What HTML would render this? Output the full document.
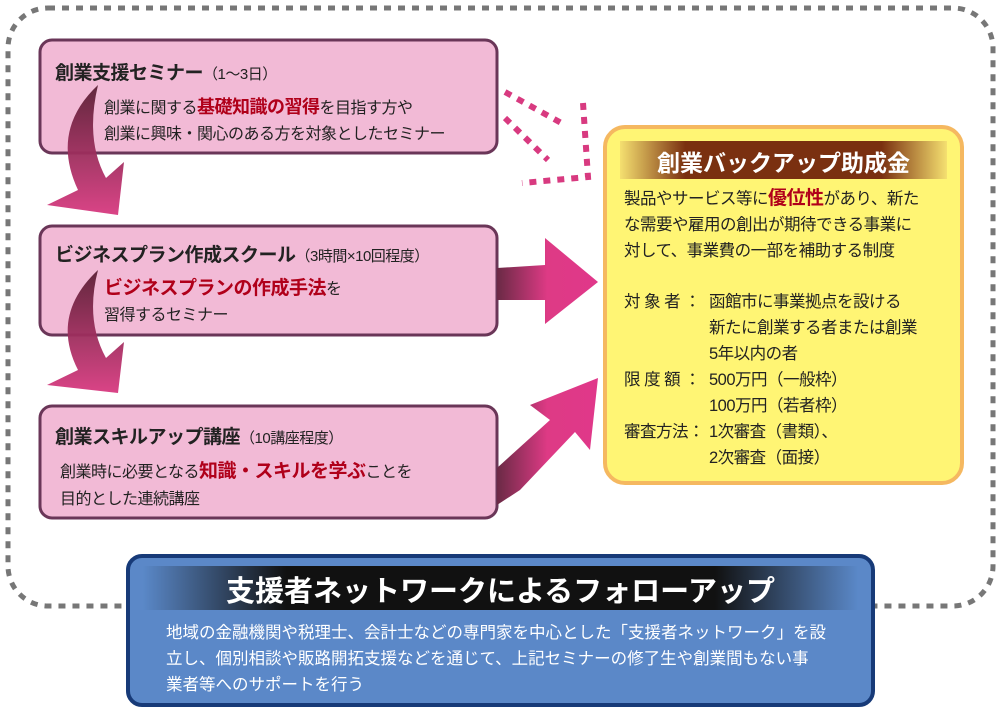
<!DOCTYPE html>
<html><head><meta charset="utf-8"><style>
body{margin:0;width:1000px;height:715px;background:#fff;overflow:hidden;font-family:"Liberation Sans","Noto Sans CJK JP",sans-serif;}
svg{position:absolute;left:0;top:0}
.t{position:absolute;color:#222;white-space:nowrap;letter-spacing:-0.5px}
.r{color:#b0001a;font-weight:bold}
.h{font-size:19px;font-weight:bold;letter-spacing:-0.5px}
.h span{font-weight:normal;font-size:15px}
</style></head><body>
<svg width="1000" height="715">
<defs>
<linearGradient id="ca" x1="0" y1="0" x2="0" y2="1"><stop offset="0" stop-color="#5a2035"/><stop offset="1" stop-color="#d83a80"/></linearGradient>
<linearGradient id="ra" x1="0" y1="0" x2="1" y2="0"><stop offset="0" stop-color="#6a2a45"/><stop offset="0.5" stop-color="#de3a85"/><stop offset="1" stop-color="#e0388a"/></linearGradient>
<linearGradient id="gb" x1="0" y1="0" x2="1" y2="0"><stop offset="0" stop-color="#f5e070"/><stop offset="0.2" stop-color="#7a3010"/><stop offset="0.8" stop-color="#7a3010"/><stop offset="1" stop-color="#f5e070"/></linearGradient>
<linearGradient id="bb" x1="0" y1="0" x2="1" y2="0"><stop offset="0" stop-color="#5a88c8"/><stop offset="0.2" stop-color="#111"/><stop offset="0.8" stop-color="#111"/><stop offset="1" stop-color="#5a88c8"/></linearGradient>
</defs>
<rect x="8" y="8" width="985" height="598" rx="40" fill="none" stroke="#777" stroke-width="5" stroke-dasharray="7 7"/>
<rect x="40" y="40" width="457" height="113" rx="12" fill="#f2bad6" stroke="#6a3658" stroke-width="3"/>
<rect x="40" y="226" width="457" height="109" rx="12" fill="#f2bad6" stroke="#6a3658" stroke-width="3"/>
<rect x="40" y="406" width="457" height="112" rx="12" fill="#f2bad6" stroke="#6a3658" stroke-width="3"/>
<path d="M98 85 Q50 130 78 190 L47 205 L118 215 L124 162 L106 178 Q85 140 98 85Z" fill="url(#ca)" opacity="0.95"/>
<path d="M98 270 Q50 315 78 370 L47 385 L118 393 L124 342 L106 358 Q85 320 98 270Z" fill="url(#ca)" opacity="0.95"/>
<path d="M497 268 L545 265 L545 238 L598 282 L545 324 L545 300 L497 300Z" fill="url(#ra)"/>
<path d="M497 468 L550 420 L530 405 L598 378 L590 450 L575 432 L520 490 L497 505Z" fill="url(#ra)"/>
<g fill="none" stroke="#d83a80" stroke-width="6" stroke-dasharray="7 7">
<path d="M505 92 L565 125"/>
<path d="M505 118 L548 160"/>
<path d="M583 103 L588 177 L522 183"/>
</g>
<rect x="605" y="127" width="357" height="356" rx="20" fill="#fff574" stroke="#f5b860" stroke-width="4"/>
<rect x="620" y="141" width="327" height="38" fill="url(#gb)"/>
<rect x="128" y="556" width="745" height="149" rx="14" fill="#5b88c8" stroke="#173a78" stroke-width="4"/>
<rect x="143" y="566" width="715" height="44" fill="url(#bb)"/>
</svg>
<div class="t h" style="left:55px;top:58px">創業支援セミナー<span>（1～3日）</span></div>
<div class="t" style="left:104px;top:94px;font-size:16px;line-height:26px">創業に関する<span class="r" style="font-size:18px">基礎知識の習得</span>を目指す方や<br>創業に興味・関心のある方を対象としたセミナー</div>
<div class="t h" style="left:55px;top:240px">ビジネスプラン作成スクール<span>（3時間×10回程度）</span></div>
<div class="t" style="left:104px;top:276px;font-size:16px;line-height:26px"><span class="r" style="font-size:19px">ビジネスプランの作成手法</span>を<br>習得するセミナー</div>
<div class="t h" style="left:55px;top:422px">創業スキルアップ講座<span>（10講座程度）</span></div>
<div class="t" style="left:60px;top:458px;font-size:16px;line-height:27px">創業時に必要となる<span class="r" style="font-size:19px">知識・スキルを学ぶ</span>ことを<br>目的とした連続講座</div>
<div class="t" style="left:620px;width:327px;text-align:center;top:144px;font-size:23px;font-weight:bold;color:#fff;letter-spacing:0">創業バックアップ助成金</div>
<div class="t" style="left:624px;top:186px;font-size:16.5px;line-height:26px">製品やサービス等に<span class="r" style="font-size:19px">優位性</span>があり、新た<br>な需要や雇用の創出が期待できる事業に<br>対して、事業費の一部を補助する制度</div>
<div class="t" style="left:624px;top:289px;font-size:16.5px;line-height:26px">対 象 者 ：<br><br><br>限 度 額 ：<br><br>審査方法：</div>
<div class="t" style="left:709px;top:289px;font-size:16.5px;line-height:26px">函館市に事業拠点を設ける<br>新たに創業する者または創業<br>5年以内の者<br>500万円（一般枠）<br>100万円（若者枠）<br>1次審査（書類）、<br>2次審査（面接）</div>
<div class="t" style="left:143px;width:715px;text-align:center;top:568px;font-size:29px;font-weight:bold;color:#fff;letter-spacing:0">支援者ネットワークによるフォローアップ</div>
<div class="t" style="left:166px;top:620px;font-size:16.5px;line-height:26px;color:#fff;letter-spacing:0">地域の金融機関や税理士、会計士などの専門家を中心とした「支援者ネットワーク」を設<br>立し、個別相談や販路開拓支援などを通じて、上記セミナーの修了生や創業間もない事<br>業者等へのサポートを行う</div>
</body></html>
